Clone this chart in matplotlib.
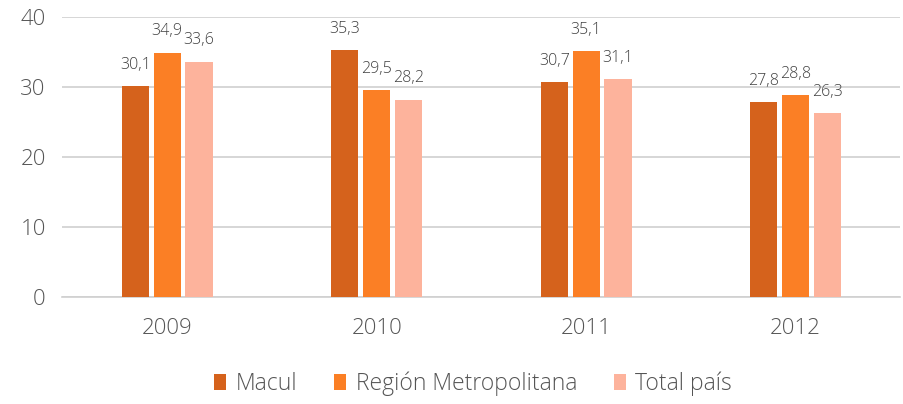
import matplotlib.pyplot as plt
import numpy as np

plt.rcParams['font.family'] = ['Open Sans', 'DejaVu Sans']
plt.rcParams['font.weight'] = 'light'

# Data
years = ['2009', '2010', '2011', '2012']
macul = [30.1, 35.3, 30.7, 27.8]
region_metro = [34.9, 29.5, 35.1, 28.8]
total_pais = [33.6, 28.2, 31.1, 26.3]

series = [('Macul', macul, '#d5621c'),
          ('Región Metropolitana', region_metro, '#fb7f25'),
          ('Total país', total_pais, '#fdb39c')]

fig = plt.figure(figsize=(9.04, 4.04), dpi=100)
ax = fig.add_axes([0.069, 0.265, 0.927, 0.693])

x = np.arange(len(years))
w = 0.13
step = 0.152
for i, (name, vals, col) in enumerate(series):
    pos = x + (i - 1) * step
    ax.bar(pos, vals, width=w, color=col, label=name, zorder=3)
    for p, v in zip(pos, vals):
        ax.text(p, v + 1.9, f'{v:.1f}'.replace('.', ','), ha='center', va='bottom',
                fontsize=11.5, color='#404040')

ax.set_ylim(0, 40)
ax.set_xlim(-0.5, 3.5)
ax.set_yticks([0, 10, 20, 30, 40])
ax.set_xticks(x)
ax.set_xticklabels(years)
ax.yaxis.grid(True, color='#d0d0d0', linewidth=1.2, zorder=0)
for s in ['top', 'right', 'left']:
    ax.spines[s].set_visible(False)
ax.spines['bottom'].set_color('#d0d0d0')
ax.spines['bottom'].set_linewidth(1.2)
ax.tick_params(axis='both', length=0, labelsize=16, labelcolor='#555555')
ax.tick_params(axis='x', pad=15)
ax.tick_params(axis='y', pad=12)

ax.legend(loc='center', bbox_to_anchor=(0.49, -0.31), ncol=3, frameon=False,
          fontsize=16.5, handlelength=0.55, handleheight=0.75, handletextpad=0.4,
          columnspacing=1.6, labelcolor='#555555')

fig.savefig('out.png', dpi=100)
